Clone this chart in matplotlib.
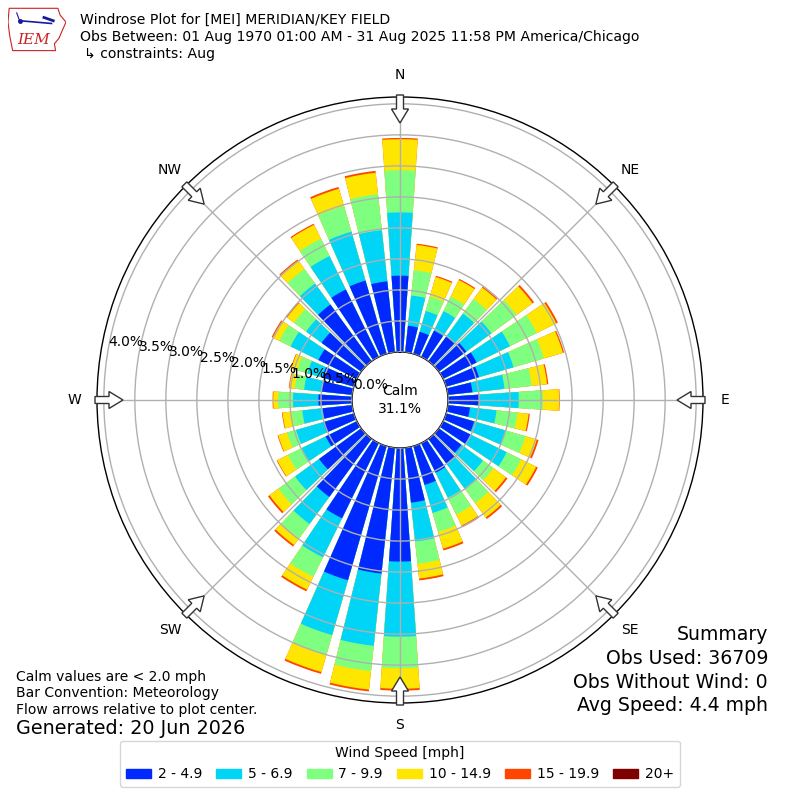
import matplotlib
matplotlib.use("Agg")
import matplotlib.pyplot as plt
from matplotlib.patches import Patch, FancyArrow, Polygon
import numpy as np

# direction bins (deg, meteorological, where wind comes from)
dirs = np.arange(0, 360, 10)

# cumulative percent of obs reaching the top of each speed bin
cum_2 = [1.23, 0.43, 0.37, 0.47, 0.50, 0.55, 0.60, 0.55, 0.40, 0.50,
         0.36, 0.47, 0.50, 0.45, 0.50, 0.53, 0.65, 0.89, 1.83, 2.04,
         2.25, 1.35, 1.16, 0.84, 0.56, 0.51, 0.48, 0.54, 0.50, 0.53,
         0.69, 0.79, 1.13, 1.21, 1.23, 1.15]
cum_5 = [2.25, 0.92, 0.72, 0.82, 0.95, 1.05, 1.20, 1.13, 0.92, 1.14,
         0.79, 1.00, 1.14, 0.88, 1.00, 0.98, 1.12, 1.52, 3.04, 3.21,
         3.17, 2.05, 1.70, 1.32, 0.99, 0.97, 0.81, 0.95, 0.78, 0.78,
         1.19, 1.10, 1.55, 1.81, 2.05, 1.98]
cum_7 = [2.93, 1.33, 0.96, 1.08, 1.24, 1.55, 1.68, 1.64, 1.36, 1.53,
         1.13, 1.33, 1.40, 1.09, 1.28, 1.28, 1.44, 1.88, 3.55, 3.62,
         3.51, 2.40, 1.99, 1.65, 1.24, 1.12, 0.98, 1.19, 0.93, 0.95,
         1.39, 1.34, 1.84, 2.12, 2.48, 2.56]
cum_10 = [3.43, 1.74, 1.29, 1.38, 1.47, 1.87, 2.03, 1.96, 1.61, 1.79,
          1.31, 1.52, 1.67, 1.34, 1.57, 1.48, 1.72, 2.12, 3.88, 3.92,
          3.79, 2.63, 2.12, 1.83, 1.43, 1.27, 1.13, 1.27, 1.02, 1.05,
          1.51, 1.48, 2.01, 2.37, 2.77, 2.91]
cum_15 = [3.45, 1.76, 1.31, 1.40, 1.49, 1.90, 2.06, 1.98, 1.63, 1.80,
          1.33, 1.55, 1.70, 1.37, 1.60, 1.51, 1.75, 2.15, 3.91, 3.95,
          3.82, 2.66, 2.15, 1.86, 1.44, 1.28, 1.14, 1.28, 1.03, 1.06,
          1.53, 1.50, 2.03, 2.39, 2.80, 2.94]

bin_labels = ["2 - 4.9", "5 - 6.9", "7 - 9.9", "10 - 14.9", "15 - 19.9", "20+"]
bin_colors = ["#0029ff", "#00d5f7", "#7fff7f", "#ffe600", "#ff4600", "#7f0000"]

calm_pct = 31.1
rings = np.arange(0, 4.01, 0.5)

fig = plt.figure(figsize=(8, 8), dpi=100)
ax = fig.add_axes([97/800, 97/800, 606/800, 606/800], projection="polar")
ax.set_theta_zero_location("N")
ax.set_theta_direction(-1)
ax.set_ylim(0, 4.11)
ax.set_rorigin(-0.774)

theta = np.deg2rad(dirs)
width = np.deg2rad(7.8)
stack = [cum_15, cum_10, cum_7, cum_5, cum_2]
cols = bin_colors[4::-1]
for vals, c in zip(stack, cols):
    ax.bar(theta, vals, width=width, bottom=0, color=c, edgecolor="none", zorder=1)

ax.set_axisbelow(False)
ax.set_rgrids(rings, labels=[""] * len(rings))
ax.set_thetagrids(range(0, 360, 45), labels=[""] * 8)
ax.grid(True, color="#b0b0b0", lw=1)
ax.spines["polar"].set_color("black")
ax.spines["polar"].set_linewidth(1)
ax.spines["inner"].set_color("black")
ax.spines["inner"].set_linewidth(1)

for r in rings:
    ax.text(np.deg2rad(280), r, f"{r:.1f}%", ha="left", va="bottom", fontsize=10, zorder=5)

compass = ["N", "NE", "E", "SE", "S", "SW", "W", "NW"]
for i, lab in enumerate(compass):
    a = np.deg2rad(i * 45)
    ax.text(a, 4.47, lab, ha="center", va="center", fontsize=10, clip_on=False)
    sx, sy = np.sin(a), np.cos(a)
    x0 = 0.5 + 305/800 * sx
    y0 = 0.5 + 305/800 * sy
    arr = FancyArrow(x0, y0, -28/800 * sx, -28/800 * sy, width=7/800, head_width=17/800,
                     head_length=14/800, length_includes_head=True, transform=fig.transFigure,
                     fc="white", ec="#333333", lw=1, zorder=10)
    fig.patches.append(arr)

fig.text(0.5, 0.5, f"Calm\n{calm_pct}%", ha="center", va="center", fontsize=10, linespacing=1.3)

# header
fig.text(80/800, 1 - 20/800, "Windrose Plot for [MEI] MERIDIAN/KEY FIELD", va="center", fontsize=10.1)
fig.text(80/800, 1 - 37/800, "Obs Between: 01 Aug 1970 01:00 AM - 31 Aug 2025 11:58 PM America/Chicago",
         va="center", fontsize=10.1)
fig.text(84/800, 1 - 54/800, "↳ constraints: Aug", va="center", fontsize=10.1)

# logo
lax = fig.add_axes([8/800, 1 - 52/800, 58/800, 46/800])
lax.set_xlim(0, 1)
lax.set_ylim(0, 1)
lax.axis("off")
outline = [(0.02, 0.95), (0.86, 0.95), (0.9, 0.8), (1.0, 0.65), (0.93, 0.45), (0.88, 0.3),
           (0.8, 0.18), (0.82, 0.03), (0.08, 0.03), (0.03, 0.35), (0.0, 0.65)]
lax.add_patch(Polygon(outline, closed=True, fill=False, ec="#cc2222", lw=0.8))
lax.plot([0.2, 0.75], [0.68, 0.62], color="#1a1aa0", lw=1.2)
lax.plot([0.62, 0.78], [0.75, 0.68], color="#1a1aa0", lw=2)
lax.plot([0.2, 0.15], [0.68, 0.85], color="#1a1aa0", lw=0.8)
lax.plot([0.2], [0.68], "o", color="#1a1aa0", ms=2.5)
lax.text(0.45, 0.25, "IEM", color="#cc2222", fontsize=11, family="serif", style="italic",
         ha="center", va="center")

# notes
fig.text(16/800, 1 - 677/800, "Calm values are < 2.0 mph", va="center", fontsize=10)
fig.text(16/800, 1 - 693/800, "Bar Convention: Meteorology", va="center", fontsize=10)
fig.text(16/800, 1 - 710/800, "Flow arrows relative to plot center.", va="center", fontsize=10)
fig.text(16/800, 1 - 729/800, "Generated: 20 Jun 2026", va="center", fontsize=13.8)

summary = ["Summary", "Obs Used: 36709", "Obs Without Wind: 0", "Avg Speed: 4.4 mph"]
for i, s in enumerate(summary):
    fig.text(768/800, 1 - (635 + i * 23.5)/800, s, ha="right", va="center", fontsize=13.6)

handles = [Patch(color=c, label=l) for c, l in zip(bin_colors, bin_labels)]
fig.legend(handles=handles, loc="lower center", bbox_to_anchor=(0.5, 0.008), ncol=6,
           title="Wind Speed [mph]", fontsize=10, title_fontsize=10, handlelength=1.8,
           handleheight=0.6, handletextpad=0.5, columnspacing=1.0)

fig.savefig("out.png", dpi=100)
